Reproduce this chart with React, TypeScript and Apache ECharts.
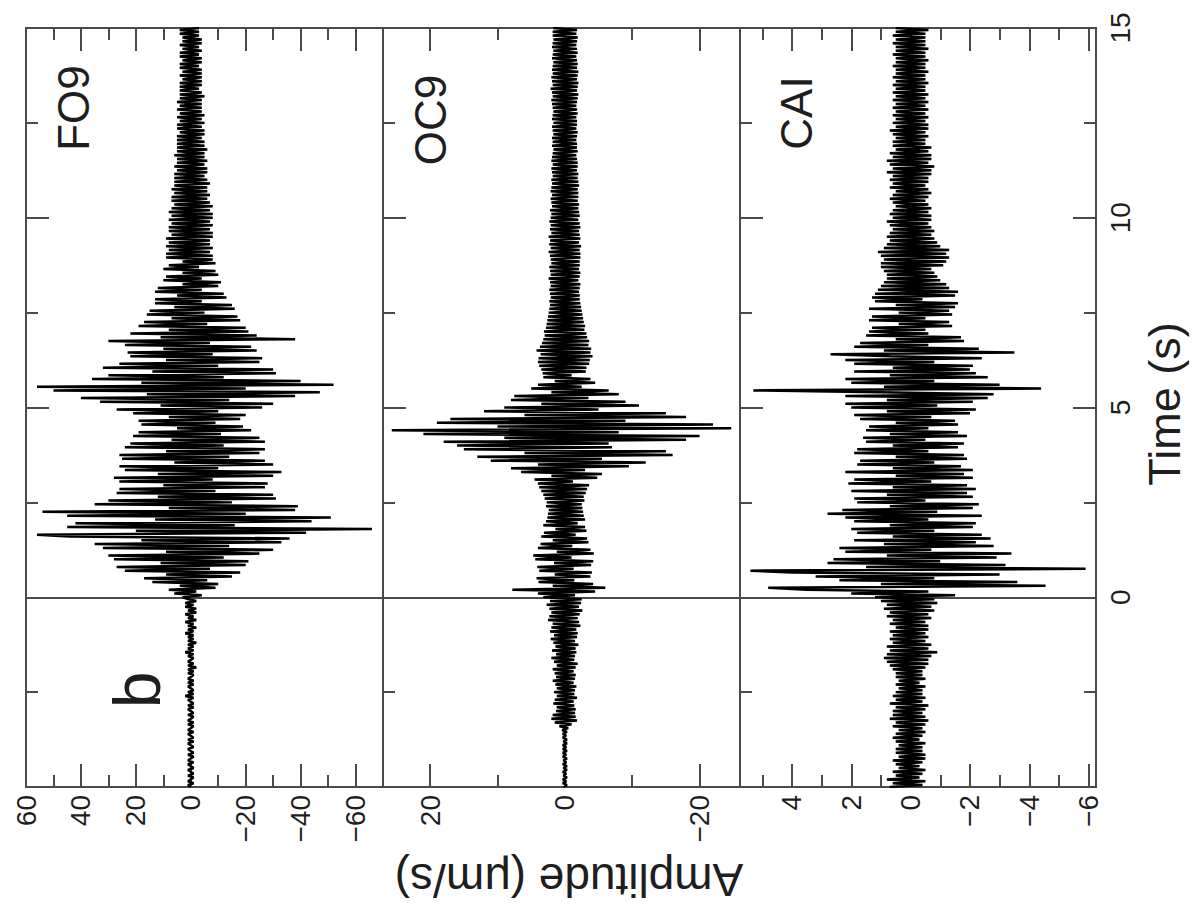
import React, { useEffect, useRef } from "react";
import * as echarts from "echarts";

// ---- sampling grid of the traces (seconds) ----
const T0 = -5;
const DT = 0.05;

// ---- station names ----
const STATIONS = ["FO9", "OC9", "CAI"];

// ---- FO9 trace, μm/s, one row per second from -5 s ----
const FO9_AMP = [
  0, 1, -1, 1, 0, -1, 1, -1, 0, 1, -1, 0, 1, -1, 1, 0, -1, 1, -1, 0,
  1, -1, 0, 1, -1, 1, -1, 0, 1, -1, 1, 0, -1, 1, -1, 1, 0, -1, 1, -1,
  0, 1, -1, 1, -1, 0, 1, -1, 2, -1, 1, -1, 0, 1, -1, 1, -1, 1, 0, -1,
  1, -1, 1, -2, 1, -1, 1, 0, -1, 1, -1, 2, -1, 1, -1, 1, -2, 1, -1, 1,
  -1, 2, -1, 1, -2, 1, -1, 2, -2, 1, -1, 2, -2, 1, -2, 2, -1, 2, -2, 1,
  3, -4, 6, -2, 8, -9, 4, -10, 14, -6, 17, -15, 9, -18, 24, -7, 27, -20, 11, -21,
  28, -12, 30, -25, 9, -30, 32, -14, 35, -33, 18, -36, 44, 56, -42, 20, -66, 45, -16, 42,
  -44, 13, -51, 45, -20, 54, -38, 8, -39, 35, -15, 30, -31, 12, -30, 27, -9, 26, -27, 10,
  -28, 26, -8, 28, -30, 12, -33, 24, -10, 26, -30, 6, -27, 25, -14, 26, -25, 9, -27, 24,
  -12, 22, -27, 7, -25, 21, -11, 19, -22, 5, -19, 18, -9, 19, -18, 8, -20, 21, -10, 27,
  -26, 11, -30, 33, -14, 40, -38, 16, -47, 50, -20, 56, -52, 18, -40, 36, -12, 30, -31, 14,
  -30, 32, -10, 26, -25, 9, -26, 22, -8, 23, -24, 10, -22, 24, -7, 30, -38, 11, -24, 22,
  -21, 8, -20, 19, -6, 17, -18, 7, -17, 16, -5, 15, -16, 6, -15, 13, -4, 13, -13, 5,
  -12, 13, -4, 12, -10, 3, -11, 10, -4, 9, -10, 3, -9, 10, -3, 8, -9, 3, -8, 9,
  -8, 9, -7, 8, -8, 9, -7, 8, -7, 9, -8, 7, -8, 8, -7, 8, -8, 7, -7, 8,
  -8, 7, -8, 8, -7, 7, -8, 6, -7, 7, -6, 7, -7, 6, -6, 7, -6, 6, -7, 6,
  -6, 6, -5, 6, -6, 5, -6, 6, -5, 5, -6, 5, -5, 6, -5, 5, -6, 5, -5, 5,
  -5, 5, -4, 5, -5, 4, -5, 5, -4, 5, -5, 4, -4, 5, -5, 4, -4, 5, -4, 4,
  -4, 5, -4, 4, -5, 4, -4, 4, -3, 4, -4, 4, -4, 3, -4, 4, -4, 3, -4, 4,
  -3, 4, -4, 3, -4, 4, -3, 4, -4, 3, -3, 4, -4, 3, -4, 3, -3, 4, -3, 4,
  -3,
];

// ---- OC9 trace, μm/s ----
const OC9_AMP = [
  0.2, -0.3, 0.3, -0.2, 0.3, -0.3, 0.2, -0.2, 0.3, -0.3, 0.2, -0.3, 0.3, -0.2, 0.2, -0.3, 0.3, -0.2, 0.3, -0.3,
  0.3, -0.2, 0.3, -0.3, 0.2, -0.3, 0.3, -0.2, 0.3, -0.3, 0.4, -0.5, 0.8, -1.0, 1.5, -1.8, 2.0, -1.6, 1.8, -1.5,
  1.3, -1.6, 1.2, -1.4, 1.7, -1.3, 1.5, -1.8, 1.2, -1.4, 1.6, -1.5, 1.2, -1.7, 1.4, -1.3, 1.8, -1.5, 1.3, -1.6,
  1.5, -1.3, 1.8, -1.6, 1.2, -1.9, 1.6, -1.4, 2.0, -1.5, 1.3, -1.7, 1.9, -1.6, 1.4, -2.0, 1.7, -1.5, 2.1, -1.8,
  1.6, -1.9, 2.2, -1.7, 2.0, -2.3, 1.8, -2.1, 2.5, -1.9, 2.3, -2.2, 2.0, -2.6, 2.3, -2.1, 2.7, -2.4, 2.2, -2.5,
  3.2, -1.5, 4.0, -4.5, 7.8, -6.0, 1.8, -4.2, 3.9, -1.4, 4.2, -3.8, 1.5, -4.0, 3.8, -1.3, 4.1, -3.9, 1.6, -4.2,
  4.4, -1.0, 4.7, -4.3, 1.2, -3.8, 4.0, -1.1, 3.6, -3.5, 1.8, -3.3, 3.5, -1.6, 3.1, -3.2, 1.4, -3.0, 3.2, -1.9,
  2.8, -3.0, 2.6, -2.8, 2.5, -2.7, 2.4, -2.6, 2.8, -2.5, 2.7, -2.9, 3.0, -2.8, 3.2, -3.1, 3.5, -3.3, 3.8, -3.6,
  4.0, -1.2, 4.5, -4.8, 2.0, -5.5, 6.5, -3.0, 8.0, -9.5, 4.0, -12.0, 11.0, -5.5, 13.0, -16.0, 6.0, -15.0, 15.0, -7.0,
  16.0, -6.5, 18.0, -18.0, 9.0, -20.0, 21.0, -8.0, 25.7, -24.7, 10.0, -22.0, 19.0, -9.0, 17.0, -18.0, 6.0, -15.0, 12.0, -5.0,
  9.0, -11.0, 3.5, -9.0, 8.0, -3.5, 7.5, -8.0, 2.0, -6.5, 5.0, -2.5, 4.0, -4.5, 1.5, -3.8, 3.2, -1.0, 3.3, -3.1,
  3.5, -3.2, 3.8, -3.6, 4.0, -3.7, 3.9, -4.1, 3.6, -3.8, 4.2, -3.9, 3.7, -3.5, 3.4, -3.6, 3.2, -3.3, 3.0, -3.2,
  3.1, -2.9, 2.8, -3.0, 2.7, -2.8, 2.6, -2.7, 2.5, -2.6, 2.4, -2.5, 2.3, -2.4, 2.2, -2.3, 2.3, -2.2, 2.1, -2.2,
  2.2, -2.1, 2.3, -2.2, 2.1, -2.3, 2.2, -2.0, 2.4, -2.2, 2.1, -2.3, 2.2, -2.1, 2.3, -2.2, 2.0, -2.2, 2.1, -2.3,
  2.2, -2.3, 2.4, -2.2, 2.1, -2.4, 2.3, -2.1, 2.2, -2.3, 2.4, -2.2, 2.0, -2.1, 2.2, -2.3, 2.1, -2.2, 2.3, -2.0,
  2.1, -2.2, 2.0, -2.1, 2.2, -2.0, 1.9, -2.1, 2.0, -1.9, 2.1, -2.0, 1.9, -2.0, 2.1, -1.9, 2.0, -2.1, 1.9, -2.0,
  2.0, -1.9, 1.8, -2.0, 1.9, -1.8, 2.0, -1.9, 1.8, -1.9, 2.0, -1.8, 1.9, -1.7, 1.8, -1.9, 1.7, -1.8, 1.9, -1.8,
  1.8, -1.7, 1.9, -1.8, 1.7, -1.9, 1.8, -1.7, 1.9, -1.8, 1.7, -1.8, 1.9, -1.7, 1.8, -1.9, 1.7, -1.8, 1.8, -1.7,
  1.9, -1.8, 2.0, -1.9, 1.8, -2.0, 1.9, -1.8, 2.1, -1.9, 1.8, -2.0, 1.9, -1.8, 2.0, -1.9, 1.8, -2.0, 1.9, -1.8,
  1.8, -1.9, 1.7, -1.8, 1.9, -1.7, 1.8, -1.9, 1.7, -1.8, 1.9, -1.7, 1.8, -1.8, 1.7, -1.9, 1.8, -1.7, 1.8, -1.8,
  1.7,
];

// ---- CAI trace, μm/s ----
const CAI_AMP = [
  0.7, -0.4, 0.6, -0.5, 0.8, -0.3, 0.5, -0.4, 0.6, -0.5, 0.4, -0.3, 0.5, -0.4, 0.6, -0.5, 0.4, -0.5, 0.5, -0.4,
  0.5, -0.4, 0.4, -0.5, 0.5, -0.3, 0.6, -0.4, 0.5, -0.5, 0.4, -0.4, 0.6, -0.5, 0.5, -0.6, 0.7, -0.5, 0.6, -0.4,
  0.6, -0.5, 0.5, -0.6, 0.7, -0.4, 0.5, -0.5, 0.6, -0.4, 0.5, -0.4, 0.4, -0.5, 0.5, -0.3, 0.4, -0.5, 0.5, -0.4,
  0.5, -0.4, 0.6, -0.5, 0.7, -0.6, 0.8, -0.6, 0.9, -0.7, 0.8, -0.9, 0.7, -0.6, 0.8, -0.7, 0.6, -0.5, 0.7, -0.6,
  0.6, -0.5, 0.7, -0.6, 0.5, -0.6, 0.7, -0.5, 0.6, -0.7, 0.8, -0.6, 0.7, -0.8, 0.9, -0.7, 0.8, -0.9, 1.0, -0.8,
  1.2, -1.5, 2.0, -0.6, 3.5, 4.8, -4.55, 1.0, -3.6, 2.4, -0.8, 3.2, -3.0, 4.0, 5.4, -5.9, 1.5, -3.2, 2.8, -1.0,
  2.6, -2.9, 0.8, -3.4, 2.2, -0.7, 2.4, -2.8, 0.9, -2.2, 1.9, -2.7, 0.6, -2.4, 1.8, -0.8, 2.0, -2.1, 0.7, -2.2,
  1.9, -0.6, 2.2, -2.4, 2.8, -0.9, 2.3, -2.1, 0.7, -2.3, 1.8, -0.5, 1.9, -2.1, 0.8, -1.9, 2.0, -2.2, 0.6, -1.9,
  2.1, -0.7, 1.9, -2.1, 0.5, -1.8, 2.2, -2.1, 0.6, -1.7, 1.8, -0.8, 1.7, -1.9, 0.5, -1.8, 1.9, -0.6, 1.8, -1.6,
  0.6, -1.8, 1.5, -0.5, 1.6, -1.9, 0.7, -1.6, 1.5, -0.6, 1.4, -1.6, 0.5, -1.5, 1.7, -0.7, 1.9, -2.0, 0.8, -2.2,
  2.0, -0.9, 2.2, -2.1, 0.8, -2.6, 2.2, -2.8, 1.0, 5.3, -4.4, 0.9, -3.0, 2.0, -0.8, 2.2, -2.6, 0.7, -2.2, 1.9,
  -2.0, 0.6, -2.1, 1.9, -0.8, 2.2, -2.4, 0.7, 2.7, -3.5, 0.9, -2.3, 1.9, -0.6, 1.7, -1.8, 0.5, -1.7, 1.5, -0.6,
  1.4, -0.5, 1.3, -1.4, 0.4, -1.3, 1.4, -0.5, 1.3, -1.4, 0.4, -1.3, 1.4, -1.5, 0.5, -1.6, 1.2, -0.4, 1.3, -1.5,
  1.2, -1.6, 1.1, -1.3, 1.0, -1.2, 0.9, -1.0, 0.8, -0.9, 0.8, -0.8, 0.9, -0.7, 1.0, -1.1, 1.0, -1.2, 0.9, -1.3,
  1.0, -1.2, 1.1, -1.3, 0.9, -1.0, 0.8, -0.9, 0.7, -0.8, 0.8, -0.7, 0.7, -0.8, 0.6, -0.7, 0.7, -0.6, 0.8, -0.7,
  0.6, -0.7, 0.7, -0.6, 0.6, -0.7, 0.5, -0.6, 0.6, -0.5, 0.7, -0.6, 0.6, -0.7, 0.5, -0.6, 0.7, -0.5, 0.6, -0.6,
  0.7, -0.6, 0.6, -0.7, 0.8, -0.7, 0.6, -0.8, 0.7, -0.6, 0.8, -0.7, 0.6, -0.7, 0.7, -0.6, 0.5, -0.7, 0.6, -0.5,
  0.6, -0.5, 0.5, -0.6, 0.6, -0.5, 0.7, -0.6, 0.5, -0.6, 0.6, -0.5, 0.5, -0.6, 0.6, -0.5, 0.5, -0.6, 0.6, -0.5,
  0.5, -0.6, 0.6, -0.5, 0.5, -0.6, 0.6, -0.5, 0.5, -0.5, 0.6, -0.6, 0.5, -0.5, 0.6, -0.5, 0.5, -0.6, 0.5, -0.5,
  0.6, -0.5, 0.5, -0.6, 0.5, -0.5, 0.6, -0.5, 0.5, -0.6, 0.5, -0.5, 0.6, -0.5, 0.5, -0.5, 0.6, -0.5, 0.5, -0.6,
  0.5,
];

// ---- axis ranges and ticks ----
const AMP_MIN = [-70, -26, -6.25];
const AMP_MAX = [60, 27, 5.75];
const AMP_MAJOR = [
  [60, 40, 20, 0, -20, -40, -60],
  [20, 0, -20],
  [4, 2, 0, -2, -4, -6],
];
const AMP_MINOR = [
  [50, 30, 10, -10, -30, -50],
  [10, -10],
  [5, 3, 1, -1, -3, -5],
];
const TIME_MIN = -5;
const TIME_MAX = 15;
const TIME_MAJOR = [-5, 0, 5, 10, 15];
const TIME_MINOR = [-2.5, 2.5, 7.5, 12.5];
const TIME_LABELS = [0, 5, 10, 15];

const TRACES = [FO9_AMP, OC9_AMP, CAI_AMP];

const FONT = "'Liberation Sans', Arial, Helvetica, sans-serif";
const LINE = "#4a4a4a";
const TEXT = "#1e1e1e";

const fmt = (v: number) => (v < 0 ? "\u2212" + Math.abs(v) : String(v));

function ampAxis(g: number, position: string, values: number[], len: number, labels: boolean) {
  return {
    type: "value",
    gridIndex: g,
    position,
    min: AMP_MIN[g],
    max: AMP_MAX[g],
    inverse: true,
    axisLine: { show: false, onZero: false },
    splitLine: { show: false },
    axisTick: { show: true, inside: true, length: len, customValues: values, lineStyle: { color: LINE, width: 2 } },
    axisLabel: labels
      ? { show: true, customValues: values, rotate: 90, margin: 8, fontSize: 28, fontFamily: FONT, color: TEXT, formatter: fmt }
      : { show: false },
  };
}

function timeAxis(g: number, position: string, values: number[], len: number, labels: boolean) {
  return {
    type: "value",
    gridIndex: g,
    position,
    min: TIME_MIN,
    max: TIME_MAX,
    axisLine: { show: false, onZero: false },
    splitLine: { show: false },
    axisTick: { show: true, inside: true, length: len, customValues: values, lineStyle: { color: LINE, width: 2 } },
    axisLabel: labels
      ? { show: true, customValues: TIME_LABELS, rotate: 90, margin: 10, fontSize: 28, fontFamily: FONT, color: TEXT, formatter: fmt }
      : { show: false },
  };
}

export default function App() {
  const ref = useRef<HTMLDivElement>(null);

  useEffect(() => {
    document.body.style.margin = "0";
    const chart = echarts.init(ref.current as HTMLDivElement, null, { renderer: "svg" });

    const grids = [
      { left: 26, top: 28, width: 357, height: 759 },
      { left: 383, top: 28, width: 357, height: 759 },
      { left: 740, top: 28, width: 356, height: 759 },
    ].map((g) => ({ ...g, show: true, borderColor: LINE, borderWidth: 2, backgroundColor: "transparent", containLabel: false }));

    const xAxes: any[] = [];
    const yAxes: any[] = [];
    for (let g = 0; g < 3; g++) {
      xAxes.push(ampAxis(g, "bottom", AMP_MAJOR[g], 23, true));
      xAxes.push(ampAxis(g, "bottom", AMP_MINOR[g], 12, false));
      xAxes.push(ampAxis(g, "top", AMP_MAJOR[g], 23, false));
      xAxes.push(ampAxis(g, "top", AMP_MINOR[g], 12, false));
      yAxes.push(timeAxis(g, "left", TIME_MAJOR, 23, false));
      yAxes.push(timeAxis(g, "left", TIME_MINOR, 12, false));
    }
    yAxes.push(timeAxis(2, "right", TIME_MAJOR, 23, true));
    yAxes.push(timeAxis(2, "right", TIME_MINOR, 12, false));

    const series = TRACES.map((amp, g) => ({
      type: "line",
      name: STATIONS[g],
      xAxisIndex: g * 4,
      yAxisIndex: g * 2,
      data: amp.map((v, i) => [v, +(T0 + i * DT).toFixed(2)]),
      showSymbol: false,
      symbol: "none",
      lineStyle: { color: "#000", width: 2.5, join: "bevel" },
      z: 3,
      markLine: {
        silent: true,
        symbol: "none",
        label: { show: false },
        lineStyle: { color: LINE, width: 2, type: "solid" },
        data: [{ yAxis: 0 }],
        z: 2,
      },
    }));

    const labelPos = [
      [73, 108],
      [430, 120],
      [796, 113],
    ];

    const graphic: any[] = STATIONS.map((s, g) => ({
      type: "text",
      x: labelPos[g][0],
      y: labelPos[g][1],
      rotation: Math.PI / 2,
      style: { text: s, font: `44px ${FONT}`, fill: TEXT, align: "center", verticalAlign: "middle" },
    }));
    graphic.push(
      {
        type: "text",
        x: 137,
        y: 690,
        rotation: Math.PI / 2,
        style: { text: "b", font: `66px ${FONT}`, fill: TEXT, align: "center", verticalAlign: "middle" },
      },
      {
        type: "text",
        x: 569,
        y: 880,
        rotation: Math.PI,
        style: { text: "Amplitude (\u03bcm/s)", font: `46px ${FONT}`, fill: TEXT, align: "center", verticalAlign: "middle" },
      },
      {
        type: "text",
        x: 1164,
        y: 404,
        rotation: Math.PI / 2,
        style: { text: "Time (s)", font: `45px ${FONT}`, fill: TEXT, align: "center", verticalAlign: "middle" },
      }
    );

    chart.setOption({
      animation: false,
      backgroundColor: "#fff",
      grid: grids,
      xAxis: xAxes,
      yAxis: yAxes,
      series,
      graphic,
    });

    return () => chart.dispose();
  }, []);

  return <div ref={ref} style={{ width: 1192, height: 921, background: "#fff" }} />;
}
